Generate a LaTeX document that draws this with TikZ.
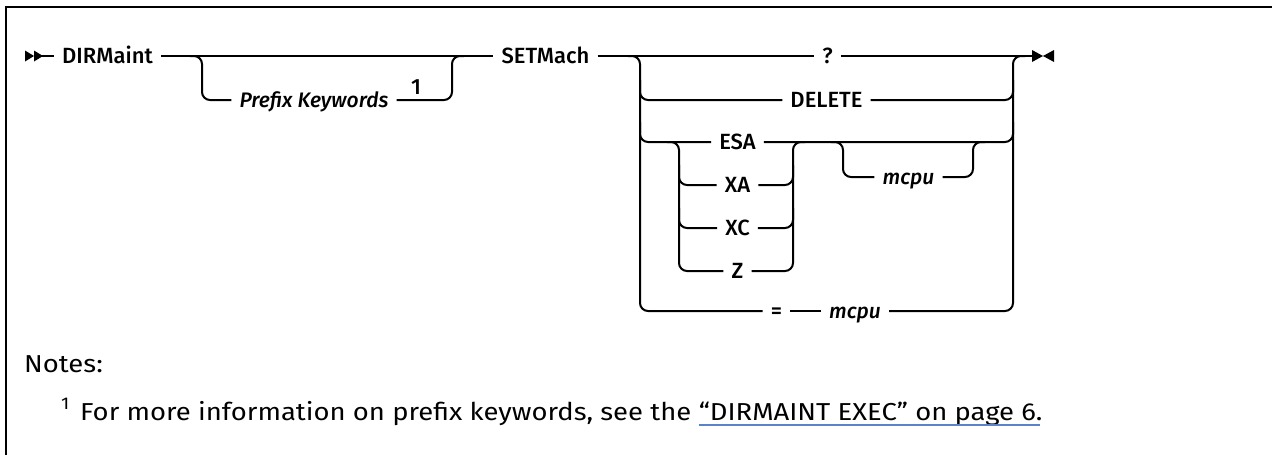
\documentclass[tikz,border=0pt]{standalone}
\usepackage{fontspec}
\setmainfont{Fira Sans}
\newfontfamily\dfont{Fira Sans Medium}[ItalicFont={Fira Sans Medium Italic}]
\newfontfamily\nfont{Fira Sans}[FakeStretch=1.12]
\usetikzlibrary{calc}
\definecolor{linkblue}{HTML}{5B82C8}
\begin{document}
\begin{tikzpicture}[x=1pt,y=-1pt,
  rail/.style={line width=2pt},
  br/.style={line width=2pt, rounded corners=8pt},
  kw/.style={font=\dfont\fontsize{22pt}{24pt}\selectfont, inner xsep=8pt, inner ysep=0pt, text height=15pt, text depth=0pt},
  var/.style={kw, font=\dfont\itshape\fontsize{21pt}{24pt}\selectfont},
  note/.style={font=\nfont\fontsize{24.5pt}{28pt}\selectfont, inner sep=0pt, anchor=base west}]
\useasboundingbox (0,0) rectangle (1272,455);
\draw[line width=2pt] (6,455) -- (6,7) -- (1272,7);
% start and end markers
\fill (25,50.5) -- (34,56) -- (25,61.5) -- cycle;
\fill (34,50.5) -- (43,56) -- (34,61.5) -- cycle;
\coordinate (start) at (42,56);
\fill (1032,50) -- (1043,56) -- (1032,62) -- cycle;
\fill (1054,50) -- (1043,56) -- (1054,62) -- cycle;
\coordinate (endm) at (1033,56);
% nodes
\node[kw] (dir) at (107.5,56) {DIRMaint};
\node[kw] (setm) at (545.5,56) {SETMach};
\node[var] (pk) at (314,100) {Prefix Keywords};
\node[kw, inner sep=0pt] (n1) at (416,87) {1};
\node[kw] (q) at (827.5,56) {?};
\node[kw] (del) at (826.5,100) {DELETE};
\node[kw] (esa) at (737.5,142) {ESA};
\node[kw] (xa) at (737.5,185) {XA};
\node[kw] (xc) at (737.5,228) {XC};
\node[kw] (z) at (737.5,271) {Z};
\node[var] (m1) at (908.5,177) {mcpu};
\node[kw] (eq) at (776.5,311) {=};
\node[var] (m2) at (855,311) {mcpu};
% coordinates of branch verticals
\coordinate (pkL) at (202,56);
\coordinate (pkR) at (452,56);
\coordinate (cL) at (640,56);
\coordinate (cR) at (1013,56);
\coordinate (eL) at (679,142);
\coordinate (eR) at (793,142);
\coordinate (mL) at (843,142);
\coordinate (mR) at (973,142);
% main line
\draw[rail] (start) -- (dir.west);
\draw[rail] (dir.east) -- (setm.west);
\draw[rail] (setm.east) -- (q.west);
\draw[rail] (q.east) -- (endm);
% prefix keywords
\draw[br] ($(pkL)+(-12,0)$) -- (pkL) |- (pk.west);
\draw[br] (pk.east) -| (pkR) -- ++(12,0);
% choices
\draw[br] ($(cL)+(-12,0)$) -- (cL) |- (eq.west);
\draw[br] (m2.east) -| (cR) -- ++(12,0);
\draw[rail] (eq.east) -- (m2.west);
\draw[br] ($(cL)+(0,24)$) |- (del.west);
\draw[br] (del.east) -| ($(cR)+(0,24)$);
\draw[br] ($(cL)+(0,66)$) |- (esa.west);
\draw[br] (esa.east) -| ($(cR)+(0,66)$);
% ESA group
\draw[br] ($(eL)+(-12,0)$) -- (eL) |- (z.west);
\draw[br] (z.east) -| (eR) -- ++(12,0);
\draw[br] ($(eL)+(0,23)$) |- (xa.west);
\draw[br] (xa.east) -| ($(eR)+(0,23)$);
\draw[br] ($(eL)+(0,66)$) |- (xc.west);
\draw[br] (xc.east) -| ($(eR)+(0,66)$);
% optional mcpu
\draw[br] ($(mL)+(-12,0)$) -- (mL) |- (m1.west);
\draw[br] (m1.east) -| (mR) -- ++(12,0);
% notes
\node[note] (notes) at (24,372) {Notes:};
\node[note, font=\nfont\fontsize{17pt}{18pt}\selectfont] (sup) at (61,409) {1};
\node[note] (fn) at (80,420) {For more information on prefix keywords, see the};
\node[note, anchor=base west] (link) at ($(fn.base east)+(7,0)$) {“DIRMAINT EXEC” on page 6.};
\draw[linkblue, line width=1.3pt] ($(link.base west)+(0,5)$) -- ($(link.base east)+(-3,5)$);
\end{tikzpicture}
\end{document}
